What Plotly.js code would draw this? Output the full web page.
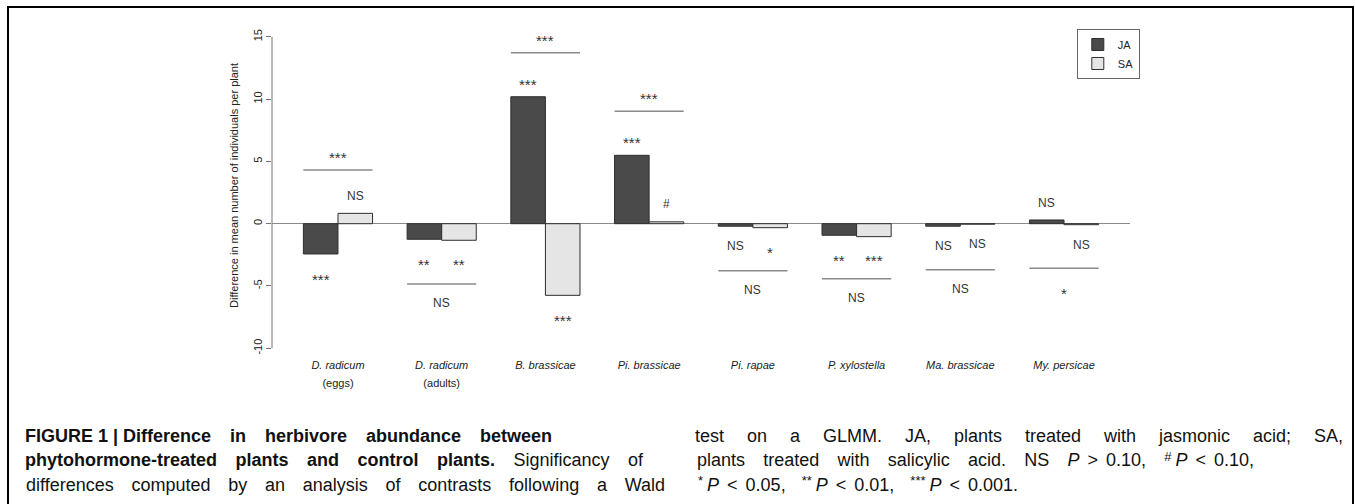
<!DOCTYPE html>
<html>
<head>
<meta charset="utf-8">
<script src="https://cdn.plot.ly/plotly-3.0.1.min.js"></script>
<style>
  html, body { margin:0; padding:0; background:#fff; overflow:hidden; }
  #wrap { position:relative; width:1355px; height:504px; overflow:hidden; }
  #chart { position:absolute; left:0; top:0; width:1355px; height:504px; }
  #frame { position:absolute; left:7px; top:6px; width:1347px; height:640px; box-sizing:border-box; border:2px solid #000; pointer-events:none; }
  .cap { position:absolute; font-family:"Liberation Sans", Arial, sans-serif; font-size:18px; line-height:24.5px; color:#111; }
  .cap > div { text-align:justify; text-align-last:justify; white-space:normal; height:24.5px; }
  .cap b { font-weight:bold; }
  .g { display:inline-block; white-space:nowrap; }
  .s { position:relative; top:-0.4em; font-size:13px; line-height:0; margin-right:4px; }
  .lt { display:inline-block; margin:0 8px; }
</style>
</head>
<body>
<div id="wrap">
  <div id="chart"></div>
  <div id="frame"></div>
  <div class="cap" style="left:25px; top:423.5px;">
    <div style="width:527px;"><b><span class="g">FIGURE 1 | Difference</span> in herbivore abundance between</b></div>
    <div style="width:618px;"><b>phytohormone-treated plants and control plants.</b> Significancy of</div>
    <div style="width:639px; margin-left:1px;">differences computed by an analysis of contrasts following a Wald</div>
  </div>
  <div class="cap" style="left:695px; top:423.5px;">
    <div style="width:648px;">test on a GLMM. JA, plants treated with jasmonic acid; SA,</div>
    <div style="width:557px; margin-left:2px;">plants treated with salicylic acid. NS <span class="g"><i>P</i><span class="lt">&gt;</span>0.10,</span> <span class="g"><span class="s">#</span><i>P</i><span class="lt">&lt;</span>0.10,</span></div>
    <div style="margin-left:3px; text-align:left; text-align-last:left;"><span class="g" style="margin-right:16px"><span class="s">*</span><i>P</i><span class="lt">&lt;</span>0.05,</span><span class="g" style="margin-right:16px"><span class="s">**</span><i>P</i><span class="lt">&lt;</span>0.01,</span><span class="g"><span class="s">***</span><i>P</i><span class="lt">&lt;</span>0.001.</span></div>
  </div>
</div>
<script>
// ---- data ----
const speciesNames = ['D. radicum', 'D. radicum', 'B. brassicae', 'Pi. brassicae', 'Pi. rapae', 'P. xylostella', 'Ma. brassicae', 'My. persicae'];
const speciesStage = ['(eggs)', '(adults)', '', '', '', '', '', ''];
const jaValues = [-2.43, -1.25, 10.19, 5.49, -0.20, -0.93, -0.20, 0.30];
const saValues = [0.83, -1.33, -5.75, 0.15, -0.32, -1.04, -0.04, -0.08];
const jaSig = ['***', '**', '***', '***', 'NS', '**', 'NS', 'NS'];
const jaSigY = [-4.04, -2.86, 11.61, 6.93, -1.79, -2.54, -1.76, 1.69];
const saSig = ['NS', '**', '***', '#', '*', '***', 'NS', 'NS'];
const saSigY = [2.22, -2.86, -7.33, 1.58, -1.90, -2.59, -1.66, -1.69];
const contrastSig = ['***', 'NS', '***', '***', 'NS', 'NS', 'NS', '*'];
const contrastSigY = [5.73, -6.39, 15.14, 10.43, -5.35, -5.96, -5.27, -5.22];
const contrastLineY = [4.31, -4.84, 13.72, 9.02, -3.77, -4.41, -3.69, -3.58];
const yTicks = [-10, -5, 0, 5, 10, 15];
const seriesNames = ['JA', 'SA'];
const yTitle = 'Difference in mean number of individuals per plant';

// ---- build ----
const idx = speciesNames.map((_, i) => i);
const tickText = speciesNames.map((n, i) =>
  '<span style="font-size:11px"><i>' + n + '</i></span>' +
  (speciesStage[i] ? '<br><span style="font-size:11px">' + speciesStage[i] + '</span>' : ''));

const barLine = { color: '#2e2e2e', width: 1 };
const traces = [
  { type: 'bar', name: seriesNames[0], x: idx, y: jaValues, marker: { color: '#4a4a4a', line: barLine } },
  { type: 'bar', name: seriesNames[1], x: idx, y: saValues, marker: { color: '#e5e5e5', line: barLine } }
];

const textFont = { family: '"Liberation Sans", Arial, sans-serif', color: '#333' };
function sigAnn(x, y, t) {
  const isStar = /^\*+$/.test(t);
  return {
    x: x, y: y, xref: 'x', yref: 'y', text: t, showarrow: false,
    xanchor: 'center', yanchor: 'middle',
    yshift: isStar ? -5 : 0,
    font: Object.assign({}, textFont, { size: isStar ? 15 : 12 })
  };
}
const annotations = [];
const shapes = [];
idx.forEach(i => {
  annotations.push(sigAnn(i - 1/6, jaSigY[i], jaSig[i]));
  annotations.push(sigAnn(i + 1/6, saSigY[i], saSig[i]));
  annotations.push(sigAnn(i, contrastSigY[i], contrastSig[i]));
  shapes.push({ type: 'line', xref: 'x', yref: 'y', x0: i - 1/3, x1: i + 1/3,
    y0: contrastLineY[i], y1: contrastLineY[i], line: { color: '#8a8a8a', width: 1.5 } });
});
// y axis line spanning only the tick range (R style)
shapes.push({ type: 'line', xref: 'paper', yref: 'y', x0: 0, x1: 0,
  y0: yTicks[0], y1: yTicks[yTicks.length - 1], line: { color: '#777', width: 1 } });
// y axis title
annotations.push({ xref: 'paper', yref: 'paper', x: -0.0443, y: 0.5265, text: yTitle,
  xanchor: 'center', yanchor: 'middle',
  textangle: -90, showarrow: false, font: Object.assign({}, textFont, { size: 11, color: '#222' }) });

const layout = {
  width: 1355, height: 504,
  margin: { l: 272, r: 225, t: 33, b: 150 },
  paper_bgcolor: 'rgba(0,0,0,0)', plot_bgcolor: 'rgba(0,0,0,0)',
  barmode: 'group', bargap: 1/3, bargroupgap: 0,
  font: textFont,
  showlegend: true,
  legend: { x: 0.938, y: 1.0125, xanchor: 'left', yanchor: 'top',
    bordercolor: '#666', borderwidth: 1, bgcolor: '#fff',
    font: { family: '"Liberation Sans", Arial, sans-serif', size: 11, color: '#222' },
    tracegroupgap: 0, itemwidth: 30 },
  xaxis: { type: 'linear', range: [-0.636, 7.636], tickvals: idx, ticktext: tickText,
    showgrid: false, zeroline: false, showline: false, ticks: '',
    tickfont: { family: '"Liberation Sans", Arial, sans-serif', size: 14, color: '#222' } },
  yaxis: { range: [-10.458, 15.305], tickvals: yTicks, ticktext: yTicks.map(String),
    showgrid: false, showline: false, ticks: 'outside', ticklen: 5, tickcolor: '#777', tickwidth: 1,
    tickangle: -90, zeroline: true, zerolinecolor: '#8a8a8a', zerolinewidth: 1.5,
    tickfont: { family: '"Liberation Sans", Arial, sans-serif', size: 11, color: '#222' } },
  annotations: annotations,
  shapes: shapes
};

Plotly.newPlot('chart', traces, layout, { displayModeBar: false, staticPlot: true });
</script>
</body>
</html>
